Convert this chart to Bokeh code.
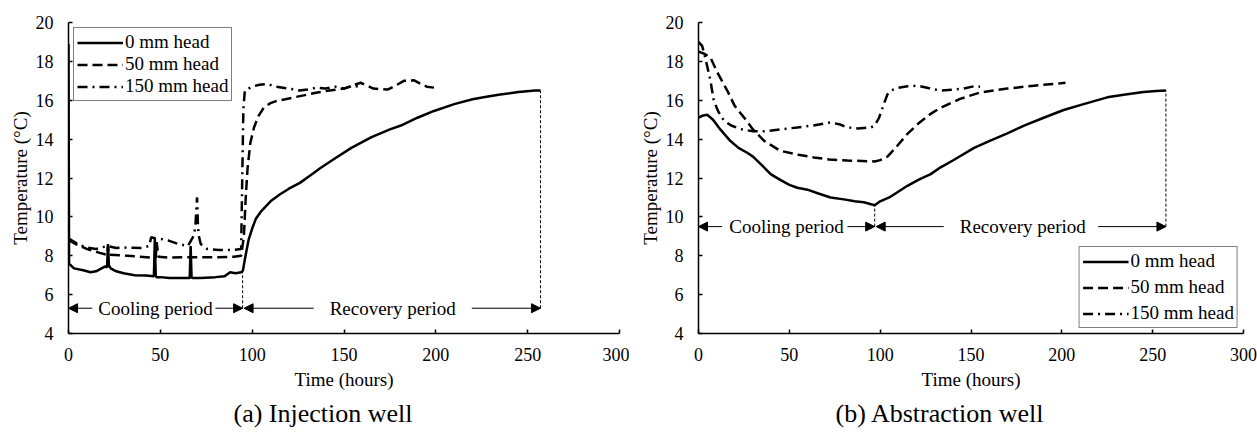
import numpy as np
from bokeh.plotting import figure
from bokeh.layouts import row
from bokeh.models import (Range1d, Arrow, NormalHead, Label, Legend, LegendItem,
                          Title, FixedTicker)
from bokeh.embed import file_html
from bokeh.resources import INLINE

FONT = "'Liberation Serif', 'Times New Roman', serif"

# ---------------- (a) Injection well ----------------
inj_t_0 = [0, 0.3, 3, 8, 12, 15, 18, 20, 21, 21.5, 22, 23, 26, 30, 36, 42, 46.5, 47, 47.5,
           48, 50, 55, 62, 66, 66.5, 67, 67.5, 72, 80, 85, 88, 91, 94, 95, 96, 97, 98, 100,
           102, 105, 110, 115, 120, 126, 132, 137, 145, 154, 165, 175, 181, 190, 199, 210,
           220, 226, 235, 245, 254, 257]
inj_T_0 = [18.9, 7.6, 7.35, 7.25, 7.15, 7.2, 7.35, 7.45, 7.4, 8.6, 7.5, 7.35, 7.2, 7.1, 7.0,
           6.98, 6.95, 8.9, 6.95, 6.9, 6.9, 6.85, 6.85, 6.85, 8.5, 6.9, 6.85, 6.85, 6.9, 6.95,
           7.15, 7.1, 7.15, 7.25, 7.8, 8.3, 8.8, 9.4, 9.9, 10.3, 10.8, 11.15, 11.45, 11.75,
           12.15, 12.5, 13.0, 13.55, 14.1, 14.5, 14.7, 15.1, 15.45, 15.8, 16.05, 16.15, 16.3,
           16.42, 16.5, 16.5]

inj_t_50 = [0, 4, 10, 17, 21, 21.5, 22, 32, 45, 47.5, 48, 49, 55, 63, 70, 81, 90, 94, 95.5,
            96.5, 97.5, 99, 101, 103.5, 106.4, 110, 113.7, 118, 122.8, 128, 135.5, 142, 150,
            159, 166, 173.7, 178, 182.6, 188, 191.6, 195, 199]
inj_T_50 = [8.8, 8.6, 8.35, 8.15, 8.05, 8.5, 8.05, 8.0, 7.9, 7.9, 8.7, 7.95, 7.9, 7.92, 7.92,
            7.92, 7.95, 8.0, 9.0, 11.0, 12.5, 13.8, 14.6, 15.2, 15.63, 15.85, 15.98, 16.05,
            16.15, 16.25, 16.4, 16.5, 16.6, 16.9, 16.6, 16.55, 16.75, 17.0, 17.03, 16.85,
            16.7, 16.65]

inj_t_150 = [0, 5, 10, 15, 21, 26, 32, 40, 44, 45, 47, 50, 54.5, 60, 65, 68, 69, 70, 70.5,
             71, 72, 75.5, 82, 90, 94, 94.6, 95.2, 96, 100, 104, 108, 113, 120, 126, 130,
             135, 140, 145, 150, 155, 158]
inj_T_150 = [8.9, 8.6, 8.42, 8.35, 8.5, 8.4, 8.42, 8.4, 8.5, 8.95, 8.9, 8.87, 8.78, 8.6, 8.5,
             9.0, 9.4, 11.0, 9.5, 9.0, 8.6, 8.35, 8.3, 8.3, 8.35, 12.0, 15.5, 16.5, 16.7,
             16.8, 16.84, 16.7, 16.6, 16.5, 16.55, 16.65, 16.6, 16.7, 16.6, 16.75, 16.7]

# ---------------- (b) Abstraction well ----------------
abs_t_0 = [0, 2, 4.8, 8, 12, 17.6, 22, 26.8, 30, 35, 39.7, 45, 50, 54.4, 60, 66, 72.7, 80,
           86, 91, 95, 97, 100, 105, 109.5, 115, 121, 127.8, 133.3, 140, 151.7, 160, 170,
           179.2, 190, 201, 212, 225, 235, 245, 252, 257.3]
abs_T_0 = [15.1, 15.2, 15.25, 15.0, 14.5, 13.9, 13.55, 13.3, 13.1, 12.65, 12.2, 11.9, 11.65,
           11.5, 11.4, 11.2, 11.0, 10.9, 10.8, 10.75, 10.65, 10.6, 10.8, 11.0, 11.27, 11.6,
           11.9, 12.2, 12.55, 12.9, 13.55, 13.9, 14.3, 14.69, 15.1, 15.5, 15.8, 16.15, 16.3,
           16.42, 16.48, 16.5]

abs_t_50 = [0, 3, 6.6, 10, 15.8, 20, 25, 30, 36, 45, 55, 63.5, 72, 82, 90, 97, 100, 104, 108,
            115, 121, 127.8, 133, 138.8, 144, 155, 170, 184.6, 199.4, 202]
abs_T_50 = [18.5, 18.4, 18.2, 17.5, 16.5, 15.7, 15.12, 14.5, 13.92, 13.4, 13.2, 13.06, 12.95,
            12.9, 12.88, 12.85, 12.92, 13.1, 13.5, 14.27, 14.8, 15.3, 15.6, 15.85, 16.07,
            16.4, 16.6, 16.75, 16.87, 16.9]

abs_t_150 = [0, 2, 3.7, 6.6, 8.4, 11, 14, 18, 23, 30, 36, 45, 54.4, 63, 72.7, 78, 82, 88, 95,
             97, 99.4, 102, 104, 106, 109.5, 115, 120.5, 127, 133, 140, 146, 151.7, 155]
abs_T_150 = [19.0, 18.8, 18.2, 17.0, 15.98, 15.4, 14.95, 14.7, 14.52, 14.4, 14.4, 14.5, 14.6,
             14.7, 14.86, 14.75, 14.6, 14.55, 14.6, 14.7, 15.1, 15.8, 16.3, 16.5, 16.63,
             16.72, 16.75, 16.62, 16.5, 16.55, 16.6, 16.72, 16.7]

series_names = ["0 mm head", "50 mm head", "150 mm head"]
x_ticks = [0, 50, 100, 150, 200, 250, 300]
y_ticks = [4, 6, 8, 10, 12, 14, 16, 18, 20]

DASHES = ["solid", "10 5", "10 5 2 5"]


def make_panel(width, left_border, right_border, caption, caption_offset, series,
               cool_end, rec_end, arrow_y, cool_text_x, rec_text_x,
               cool_gaps, rec_gaps, legend_loc, legend_spacing):
    p = figure(width=width, height=432, output_backend="svg", toolbar_location=None,
               x_range=Range1d(0, 300), y_range=Range1d(4, 20),
               min_border_left=left_border, min_border_right=right_border,
               min_border_top=22, min_border_bottom=99)
    p.outline_line_color = None
    p.grid.visible = False
    p.background_fill_color = "white"
    p.border_fill_color = "white"

    for ax in (p.xaxis[0], p.yaxis[0]):
        ax.axis_line_color = "black"
        ax.axis_line_width = 1.5
        ax.major_tick_line_color = "black"
        ax.major_tick_line_width = 1.5
        ax.major_tick_in = 4
        ax.major_tick_out = 0
        ax.minor_tick_line_color = None
        ax.major_label_text_font = FONT
        ax.major_label_text_font_size = "18px"
        ax.major_label_text_color = "black"
        ax.axis_label_text_font = FONT
        ax.axis_label_text_font_size = "19px"
        ax.axis_label_text_font_style = "normal"
        ax.axis_label_text_color = "black"

    p.xaxis.ticker = FixedTicker(ticks=x_ticks)
    p.yaxis.ticker = FixedTicker(ticks=y_ticks)
    p.xaxis.axis_label = "Time (hours)"
    p.yaxis.axis_label = "Temperature (°C)"
    p.xaxis.major_label_standoff = 14
    p.xaxis.axis_label_standoff = 5
    p.yaxis.major_label_standoff = 15
    p.yaxis.axis_label_standoff = 2

    items = []
    for (t, T), name, dash in zip(series, series_names, DASHES):
        r = p.line(t, T, line_color="black", line_width=2.5, line_dash=dash)
        items.append(LegendItem(label=name, renderers=[r]))

    leg = Legend(items=items, location=legend_loc, orientation="vertical",
                 label_text_font=FONT, label_text_font_size="19px",
                 label_text_color="black", glyph_width=46, glyph_height=19,
                 label_height=19, label_standoff=2, spacing=legend_spacing,
                 padding=3, margin=5, border_line_color="black",
                 border_line_width=1, background_fill_alpha=1.0)
    p.add_layout(leg)

    # period markers: dashed drop lines down to the arrow level
    t0, T0 = series[0]
    for xe in (cool_end, rec_end):
        top = float(np.interp(xe, t0, T0))
        p.segment(x0=[xe], y0=[arrow_y], x1=[xe], y1=[top], line_color="black",
                  line_width=1, line_dash="3 2")

    def arrow(xs, xe):
        p.add_layout(Arrow(x_start=xs, y_start=arrow_y, x_end=xe, y_end=arrow_y,
                           line_color="black", line_width=1,
                           end=NormalHead(size=9, fill_color="black", line_color="black")))

    arrow(cool_gaps[0], 0)
    arrow(cool_gaps[1], cool_end)
    arrow(rec_gaps[0], cool_end + 0.8)
    arrow(rec_gaps[1], rec_end)

    for tx, txt in ((cool_text_x, "Cooling period"), (rec_text_x, "Recovery period")):
        p.add_layout(Label(x=tx, y=arrow_y, text=txt, text_align="center",
                           text_baseline="middle", text_font=FONT,
                           text_font_size="19px", text_color="black"))

    # panel caption under the axis title
    cap = Title(text=caption, align="left", offset=caption_offset,
                text_font=FONT, text_font_size="26px", text_font_style="normal",
                text_color="black", standoff=8)
    p.add_layout(cap, "below")
    return p


p1 = make_panel(629, 68, 10, "(a) Injection well", 165,
                [(inj_t_0, inj_T_0), (inj_t_50, inj_T_50), (inj_t_150, inj_T_150)],
                cool_end=94.8, rec_end=257, arrow_y=5.3,
                cool_text_x=47.4, rec_text_x=176.5,
                cool_gaps=(13, 80), rec_gaps=(133.5, 219.6),
                legend_loc="top_left", legend_spacing=0)

p2 = make_panel(628, 69, 14, "(b) Abstraction well", 137,
                [(abs_t_0, abs_T_0), (abs_t_50, abs_T_50), (abs_t_150, abs_T_150)],
                cool_end=97, rec_end=257.3, arrow_y=9.5,
                cool_text_x=48.5, rec_text_x=178.5,
                cool_gaps=(13, 82), rec_gaps=(135, 220),
                legend_loc="bottom_right", legend_spacing=4)

layout = row(p1, p2)
open("out.html", "w").write(file_html(layout, INLINE))
